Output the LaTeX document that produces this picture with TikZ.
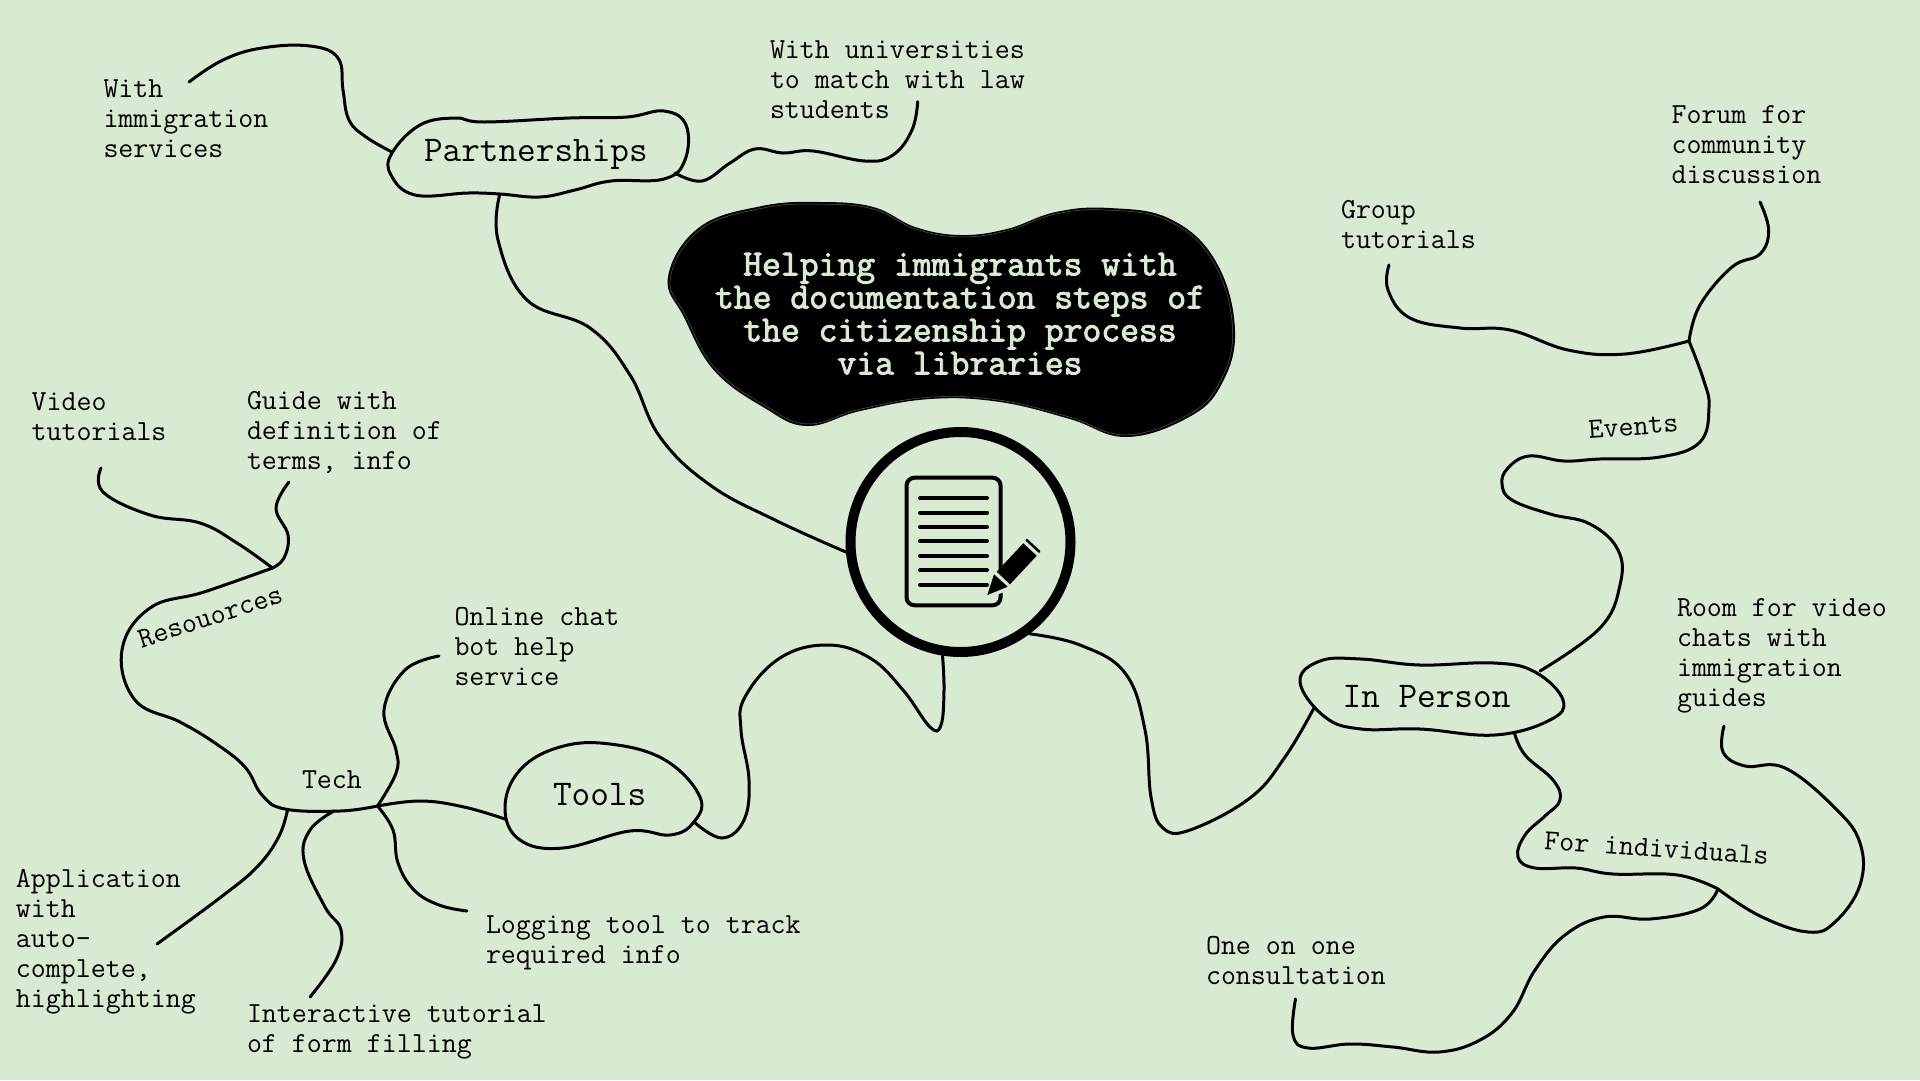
\documentclass[tikz,border=0pt]{standalone}
\usepackage{fontspec}
\newfontfamily\titlemono[FakeBold=2.6]{Latin Modern Mono}
\definecolor{bgc}{HTML}{D9EAD3}
\definecolor{ink}{HTML}{000000}
\newcommand{\smallfont}{\fontsize{29.1}{30}\selectfont\ttfamily}
\newcommand{\bigfont}{\fontsize{36.2}{33}\selectfont\ttfamily}
\newcommand{\titlefont}{\fontsize{36.6}{33}\selectfont\titlemono}
\newcommand{\titleblob}{plot[smooth cycle] coordinates {(669,277)(700,228)(762,207)(820,203)(873,208)(915,228)(960,236)(1007,230)(1056,213)(1109,209)(1170,220)(1215,262)(1234,330)(1220,385)(1187,417)(1126,436)(1070,418)(1000,401)(930,398)(860,410)(807,425)(765,407)(715,370)(685,317)}}
\tikzset{
  lab/.style={anchor=north west,inner sep=0pt,outer sep=0pt,align=left,font=\smallfont,text=ink,execute at begin node=\strut},
  rotlab/.style={anchor=base,inner sep=0pt,outer sep=0pt,font=\smallfont,text=ink},
  biglab/.style={anchor=base west,inner sep=0pt,outer sep=0pt,font=\bigfont,text=ink},
  wire/.style={draw=ink,line width=3pt,line cap=round,line join=round},
  blobline/.style={draw=ink,line width=3pt,line join=round},
  iconline/.style={draw=ink,line width=4pt,line cap=round}
}
\begin{document}
\begin{tikzpicture}[x=1pt,y=-1pt,tension=0.68]
\useasboundingbox (0,0) rectangle (1920,1080);
\fill[bgc] (0,0) rectangle (1920,1080);

% junctions and free ends
\coordinate (jRes) at (272.5,568);
\coordinate (jTech) at (377.5,806);
\coordinate (jEv) at (1689,341);
\coordinate (jInd) at (1718,889);

\coordinate (ePartL) at (392,152);
\coordinate (ePartR) at (675,173);
\coordinate (ePartB) at (499.6,195);
\coordinate (eToolsL) at (505,819);
\coordinate (eToolsR) at (694,822);
\coordinate (eIPtop) at (1540,671);
\coordinate (eIPl) at (1314,708);
\coordinate (eIPb) at (1514.5,733);

\coordinate (fWith) at (189,82);
\coordinate (fUni) at (917.7,101.7);
\coordinate (fForum) at (1760,202);
\coordinate (fGroup) at (1389,265);
\coordinate (fRoom) at (1724,726);
\coordinate (fOne) at (1295.5,999);
\coordinate (fVideo) at (101,468);
\coordinate (fGuide) at (289,482);
\coordinate (fChat) at (439,656);
\coordinate (fApp) at (157,944);
\coordinate (fInter) at (310,997);
\coordinate (fLog) at (467,911);

% title blob
\path[fill=ink,draw=ink,line width=2pt] \titleblob;
\begin{scope}[shift={(951,320)},xscale=.995,yscale=.99,shift={(-951,-320)}]
\path[draw=black!65,line width=.5pt] \titleblob;
\end{scope}
\node[inner sep=0pt,align=center,font=\titlefont,text=bgc,anchor=north] (title) at (960,252) {\strut Helping immigrants with\\the documentation steps of\\the citizenship process\\via libraries};

% hub
\node[circle,draw=ink,line width=10pt,minimum size=220pt,inner sep=0pt] (hub) at (960.5,542) {};
\draw[draw=ink,line width=4pt,rounded corners=8pt] (906.5,477.7) rectangle (1000.6,605.3);
\foreach \yy in {498.3,512.7,527,541.3,555.7,570.3,584.7}
  \draw[iconline] (920,\yy) -- (987,\yy);
\fill[bgc,draw=bgc,line width=7pt,line join=round] (987.3,595) -- (1023.3,543.3) -- (1036.7,555.7) -- (1007.7,586.7) -- cycle;
\fill[ink] (987.3,595) -- (994,574.3) -- (1007.7,586.7) -- cycle;
\fill[ink] (996.7,571.7) -- (1023.3,543.3) -- (1036.7,555.7) -- (1010,584.3) -- cycle;
\draw[ink,line width=2.5pt,line cap=round] (1026.7,540) -- (1039.3,551.7);

% blobs and labels
\path[blobline] plot[smooth cycle] coordinates {(392,153)(391,175)(415,195)(468,193)(500,194)(540,197)(575,190)(611,181)(664,179)(685,160)(686,125)(664,111)(627,117)(570,118)(484,122)(455,118)(420,125)};
\node[biglab] (partnerships) at (424,161) {Partnerships};
\path[blobline] plot[smooth cycle] coordinates {(505,808)(520,770)(560,747)(610,744)(665,760)(700,797)(693,823)(670,835)(630,831)(563,848)(520,840)};
\node[biglab] (tools) at (553,805) {Tools};
\path[blobline] plot[smooth cycle] coordinates {(1300,682)(1320,661)(1361,659)(1420,665)(1494,663)(1535,672)(1563,700)(1550,720)(1495,735)(1420,729)(1361,729)(1325,717)};
\node[biglab] (inperson) at (1342.6,707) {In Person};

\node[lab] (with) at (103.5,80) {With\\immigration\\services};
\node[lab] (uni) at (770,41) {With universities\\to match with law\\students};
\node[lab] (forum) at (1671.5,106) {Forum for\\community\\discussion};
\node[lab] (group) at (1341,200) {Group\\tutorials};
\node[lab] (room) at (1677,599) {Room for video\\chats with\\immigration\\guides};
\node[lab] (one) at (1206,936) {One on one\\consultation};
\node[lab] (video) at (31.6,393) {Video\\tutorials};
\node[lab] (guide) at (247,391) {Guide with\\definition of\\terms, info};
\node[lab] (chat) at (454.5,607) {Online chat\\bot help\\service};
\node[lab] (app) at (16,869) {Application\\with\\auto-\\complete,\\highlighting};
\node[lab] (inter) at (247,1005) {Interactive tutorial\\of form filling};
\node[lab] (logg) at (486,916) {Logging tool to track\\required info};
\node[rotlab,anchor=base west] (tech) at (302,788) {Tech};
\node[rotlab,rotate=18] (res) at (213,625) {Resouorces};
\node[rotlab,rotate=4] (events) at (1634,435) {Events};
\node[rotlab,rotate=-4] (indiv) at (1656,857) {For individuals};

% connectors
\draw[wire] plot[smooth] coordinates {(ePartB)(498,240)(527,300)(590,328)(630,375)(660,437)(710,485)(775,520)(hub.185)};
\draw[wire] plot[smooth] coordinates {(fWith)(223,60)(262,48)(310,46)(338,58)(343,90)(349,120)(366,137)(ePartL)};
\draw[wire] plot[smooth] coordinates {(fUni)(912,130)(893,155)(865,161)(813,151)(783,153)(755,149)(730,163)(702,181)(ePartR)};
\draw[wire] plot[smooth] coordinates {(fForum)(1768.6,230)(1760,254)(1732,267)(1700,305)(jEv)};
\draw[wire] plot[smooth] coordinates {(fGroup)(1388,290)(1410,318)(1460,328)(1510,330)(1568,350)(1625,354)(jEv)};
\draw[wire] plot[smooth] coordinates {(jEv)(1703.6,380)(1709,407)(1700,442)(1660,457)(1600,459)(1564,461)(1529,456)(1508,468)(1502,484)(1512,500)(1550,514)(1590,524)(1618,550)(1620,585)(1600,628)(eIPtop)};
\draw[wire] plot[smooth] coordinates {(hub.-53)(1080,645)(1125,673)(1145,730)(1151,797)(1163,828)(1190,830)(1250,798)(1285,757)(eIPl)};
\draw[wire] plot[smooth] coordinates {(eIPb)(1525,755)(1553,780)(1560,800)(1545,816)(1525,835)(1518,857)(1535,868)(1576,868)(1613,874)(1677.5,875)(jInd)};
\draw[wire] plot[smooth] coordinates {(jInd)(1700,909)(1650,919)(1604,917)(1565,935)(1535,970)(1512,1013)(1480,1040)(1439,1052)(1393,1047)(1350,1044)(1308,1048)(1293,1035)(fOne)};
\draw[wire] plot[smooth] coordinates {(fRoom)(1723,752)(1745,766)(1785,768)(1835,808)(1860,843)(1860,885)(1835,922)(1808,932)(1760,916)(jInd)};
\draw[wire] plot[smooth] coordinates {(hub.-99)(944,690)(941,725)(930,727)(903,690)(870,658)(827,645)(780,658)(745,697)(741,730)(749,780)(744,820)(722,838)(eToolsR)};
\draw[wire] plot[smooth] coordinates {(eToolsL)(464,807)(421,801)(jTech)};
\draw[wire] plot[smooth] coordinates {(jRes)(204,592)(150,608)(122,650)(135,700)(180,722)(215,743)(245,767)(262,795)(285,809)(340,811)(jTech)};
\draw[wire] plot[smooth] coordinates {(fChat)(405,670)(384,710)(396,750)(396,773)(jTech)};
\draw[wire] plot[smooth] coordinates {(fVideo)(103,492)(150,515)(200,523)(237,543)(jRes)};
\draw[wire] plot[smooth] coordinates {(fGuide)(276,508)(288,535)(284,558)(jRes)};
\draw[wire] plot[smooth] coordinates {(287.5,810)(278.6,837)(257,867)(221,897)(fApp)};
\draw[wire] plot[smooth] coordinates {(334,811)(310,830)(304,860)(325,907)(341,930)(336,960)(fInter)};
\draw[wire] plot[smooth] coordinates {(jTech)(393,830)(398,863)(414,890)(439,905)(fLog)};
\end{tikzpicture}
\end{document}
